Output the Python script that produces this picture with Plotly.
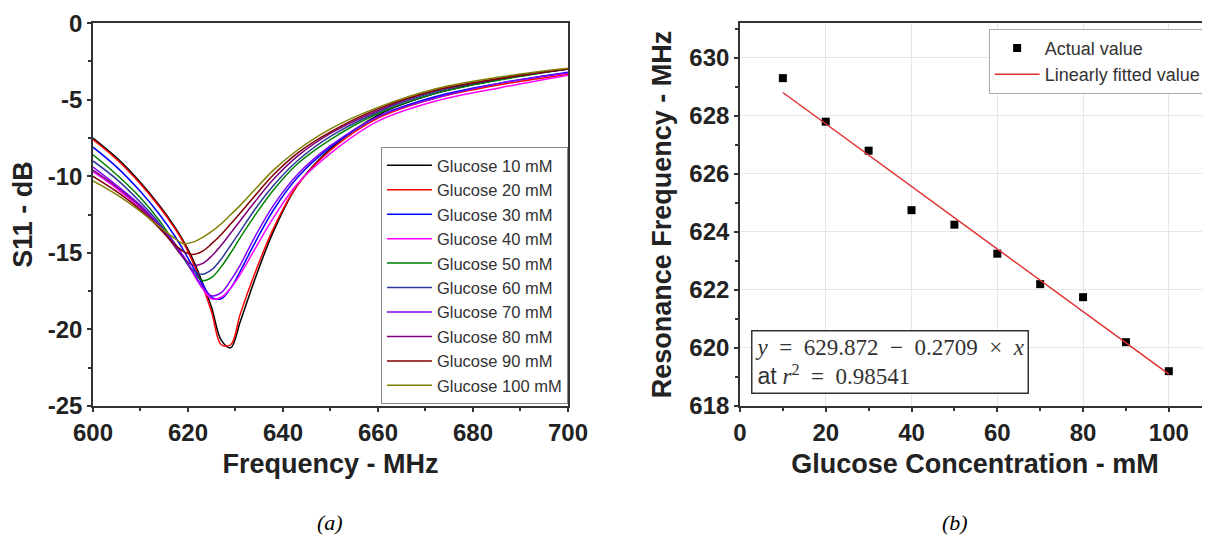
import numpy as np
import plotly.graph_objects as go

# ---------------- data: panel (a) ----------------
freq = [600, 605, 610, 614, 617, 619, 621, 623, 625, 627, 629, 631, 634, 638, 643, 650, 660, 672, 686, 700]

s11_10 = [-7.5, -8.8, -10.4, -11.9, -13.2, -14.2, -15.4, -16.9, -18.6, -20.7, -21.2, -19.5, -16.8, -13.6, -10.6, -8.2, -6.0, -4.6, -3.65, -3.0]
s11_20 = [-7.6, -8.9, -10.5, -12.0, -13.3, -14.3, -15.6, -17.1, -18.9, -21.0, -21.0, -19.0, -16.4, -13.4, -10.6, -8.3, -6.2, -4.9, -4.0, -3.35]
s11_30 = [-8.1, -9.4, -11.0, -12.5, -13.8, -14.8, -15.9, -17.0, -17.9, -18.0, -17.3, -16.2, -14.4, -12.2, -10.1, -8.1, -6.1, -4.8, -3.9, -3.2]
s11_40 = [-9.7, -10.8, -12.1, -13.3, -14.4, -15.3, -16.3, -17.3, -18.0, -17.9, -17.3, -16.4, -14.8, -12.7, -10.5, -8.5, -6.4, -5.1, -4.2, -3.4]
s11_50 = [-8.6, -9.9, -11.4, -12.9, -14.3, -15.3, -16.2, -16.8, -16.6, -15.9, -15.0, -14.0, -12.6, -10.9, -9.2, -7.6, -5.9, -4.6, -3.7, -3.0]
s11_60 = [-9.0, -10.2, -11.7, -13.1, -14.4, -15.3, -16.1, -16.4, -16.1, -15.4, -14.5, -13.6, -12.2, -10.6, -9.0, -7.4, -5.8, -4.5, -3.6, -3.0]
s11_70 = [-9.4, -10.6, -11.9, -13.2, -14.3, -15.2, -16.2, -17.2, -17.8, -17.6, -16.8, -15.8, -14.0, -11.9, -9.9, -8.0, -6.1, -4.9, -3.9, -3.25]
s11_80 = [-9.6, -10.7, -12.0, -13.3, -14.5, -15.3, -15.8, -15.7, -15.2, -14.5, -13.7, -12.9, -11.7, -10.2, -8.7, -7.2, -5.7, -4.4, -3.6, -3.0]
s11_90 = [-10.0, -11.0, -12.2, -13.4, -14.4, -14.9, -15.1, -14.9, -14.4, -13.8, -13.1, -12.4, -11.3, -9.9, -8.5, -7.1, -5.6, -4.4, -3.6, -3.0]
s11_100 = [-10.3, -11.2, -12.3, -13.3, -14.0, -14.4, -14.3, -14.0, -13.6, -13.1, -12.5, -11.9, -10.9, -9.6, -8.3, -6.9, -5.5, -4.3, -3.5, -2.95]

series_names = ["Glucose 10 mM", "Glucose 20 mM", "Glucose 30 mM", "Glucose 40 mM", "Glucose 50 mM",
                "Glucose 60 mM", "Glucose 70 mM", "Glucose 80 mM", "Glucose 90 mM", "Glucose 100 mM"]
series_values = [s11_10, s11_20, s11_30, s11_40, s11_50, s11_60, s11_70, s11_80, s11_90, s11_100]
series_colors = ["#000000", "#ff0000", "#0000ff", "#ff00ff", "#008000",
                 "#2a3a96", "#8000ff", "#800080", "#800000", "#808000"]

# ---------------- data: panel (b) ----------------
conc = [10, 20, 30, 40, 50, 60, 70, 80, 90, 100]
res_freq = [629.3, 627.8, 626.8, 624.75, 624.25, 623.25, 622.2, 621.75, 620.2, 619.2]

x_ticks_a = [600, 620, 640, 660, 680, 700]
x_labels_a = ["600", "620", "640", "660", "680", "700"]
y_ticks_a = [0, -5, -10, -15, -20, -25]
y_labels_a = ["0", "-5", "-10", "-15", "-20", "-25"]
x_ticks_b = [0, 20, 40, 60, 80, 100]
x_labels_b = ["0", "20", "40", "60", "80", "100"]
y_ticks_b = [618, 620, 622, 624, 626, 628, 630]
y_labels_b = ["618", "620", "622", "624", "626", "628", "630"]

NB = "\u00a0"
eq_text = f"<i>y</i>{NB}{NB}={NB}{NB}629.872{NB}{NB}−{NB}{NB}0.2709{NB}{NB}×{NB}{NB}<i>x</i>"
r2_text = f"<span style='font-family:Liberation Sans, Arial'>at</span>{NB}<i>r</i><sup>2</sup>{NB}{NB}={NB}{NB}0.98541"

# ---------------- figure ----------------
SANS = "Liberation Sans, Arial, sans-serif"
SERIF = "Liberation Serif, Times New Roman, serif"
AXC = "#333333"

fig = go.Figure()

for i, (name, vals, col) in enumerate(zip(series_names, series_values, series_colors)):
    fig.add_trace(go.Scatter(
        x=freq, y=vals, mode="lines", name=name,
        line=dict(color=col, width=1.5, shape="spline", smoothing=1.0),
        xaxis="x", yaxis="y", legend="legend", legendgroup=f"g{i}",
    ))

fig.add_trace(go.Scatter(
    x=conc, y=res_freq, mode="markers", name="Actual value",
    marker=dict(symbol="square", size=8, color="black"),
    xaxis="x2", yaxis="y2", legend="legend2",
))

coef = np.polyfit(conc, res_freq, 1)
fit_x = [conc[0], conc[-1]]
fit_y = list(np.polyval(coef, fit_x))
fig.add_trace(go.Scatter(
    x=fit_x, y=fit_y, mode="lines", name="Linearly fitted value",
    line=dict(color="#e03030", width=1.5),
    xaxis="x2", yaxis="y2", legend="legend2",
))


def bold(labels):
    return [f"<b>{t}</b>" for t in labels]


axis_common = dict(
    showline=True, linecolor=AXC, linewidth=1.5, mirror=True,
    ticks="outside", ticklen=4, tickwidth=1.5, tickcolor=AXC,
    tickfont=dict(family=SANS, size=24, color="#222222"),
    zeroline=False, automargin=False, ticklabeloverflow="allow",
)
title_font = dict(family=SANS, size=27, color="#222222", weight="bold")

# the page body adds an 8px offset, so the figure is drawn 8px smaller
fig.update_layout(
    width=1202, height=535,
    margin=dict(l=85, r=0, t=15, b=137),
    plot_bgcolor="white", paper_bgcolor="white",
    xaxis=dict(
        domain=[0, 0.4252], range=[600, 700], tickvals=x_ticks_a, ticktext=bold(x_labels_a), showgrid=False,
        minor=dict(ticks="outside", ticklen=3, tickcolor=AXC, dtick=10, showgrid=False),
        title=dict(text="Frequency - MHz", font=title_font, standoff=10),
        anchor="y", **axis_common,
    ),
    yaxis=dict(
        domain=[0, 1], range=[-25, 0.01], tickvals=y_ticks_a, ticktext=bold(y_labels_a), showgrid=False,
        minor=dict(ticks="outside", ticklen=3, tickcolor=AXC, dtick=2.5, showgrid=False),
        title=dict(text="S11 - dB", font=title_font, standoff=8),
        anchor="x", **axis_common,
    ),
    xaxis2=dict(
        domain=[0.5792, 1], range=[0, 109.6], tickvals=x_ticks_b, ticktext=bold(x_labels_b),
        showgrid=True, gridcolor="#e6e6e6",
        minor=dict(ticks="outside", ticklen=3, tickcolor=AXC, dtick=10, showgrid=False),
        title=dict(text="Glucose Concentration - mM", font=title_font, standoff=10),
        anchor="y2", **axis_common,
    ),
    yaxis2=dict(
        domain=[0, 1], range=[618, 631.2], tickvals=y_ticks_b, ticktext=bold(y_labels_b),
        showgrid=True, gridcolor="#e6e6e6",
        minor=dict(ticks="outside", ticklen=3, tickcolor=AXC, dtick=1, showgrid=False),
        title=dict(text="Resonance Frequency - MHz", font=title_font, standoff=10),
        anchor="x2", **axis_common,
    ),
    legend=dict(
        x=0.4252, y=0.005, xanchor="right", yanchor="bottom",
        bgcolor="white", bordercolor="#888888", borderwidth=1,
        font=dict(family=SANS, size=16.5, color="#333333"),
        tracegroupgap=0, itemwidth=45,
    ),
    legend2=dict(
        x=0.997, y=0.985, xanchor="right", yanchor="top",
        bgcolor="white", bordercolor="#aaaaaa", borderwidth=1,
        font=dict(family=SANS, size=18, color="#333333"),
        itemwidth=45, tracegroupgap=0,
    ),
    annotations=[
        dict(text=eq_text + "<br>" + r2_text, xref="paper", yref="paper",
             x=0.589, y=0.1984, xanchor="left", yanchor="top", align="left",
             showarrow=False, font=dict(family=SERIF, size=23, color="#333333"),
             bordercolor="#333333", borderwidth=1.5, borderpad=3, bgcolor="white"),
        dict(text="<i>(a)</i>", xref="paper", yref="paper", x=0.2122, y=-0.303,
             xanchor="center", yanchor="middle",
             showarrow=False, font=dict(family=SERIF, size=22, color="black")),
        dict(text="<i>(b)</i>", xref="paper", yref="paper", x=0.7717, y=-0.303,
             xanchor="center", yanchor="middle",
             showarrow=False, font=dict(family=SERIF, size=22, color="black")),
    ],
)

fig.write_html("out.html")
